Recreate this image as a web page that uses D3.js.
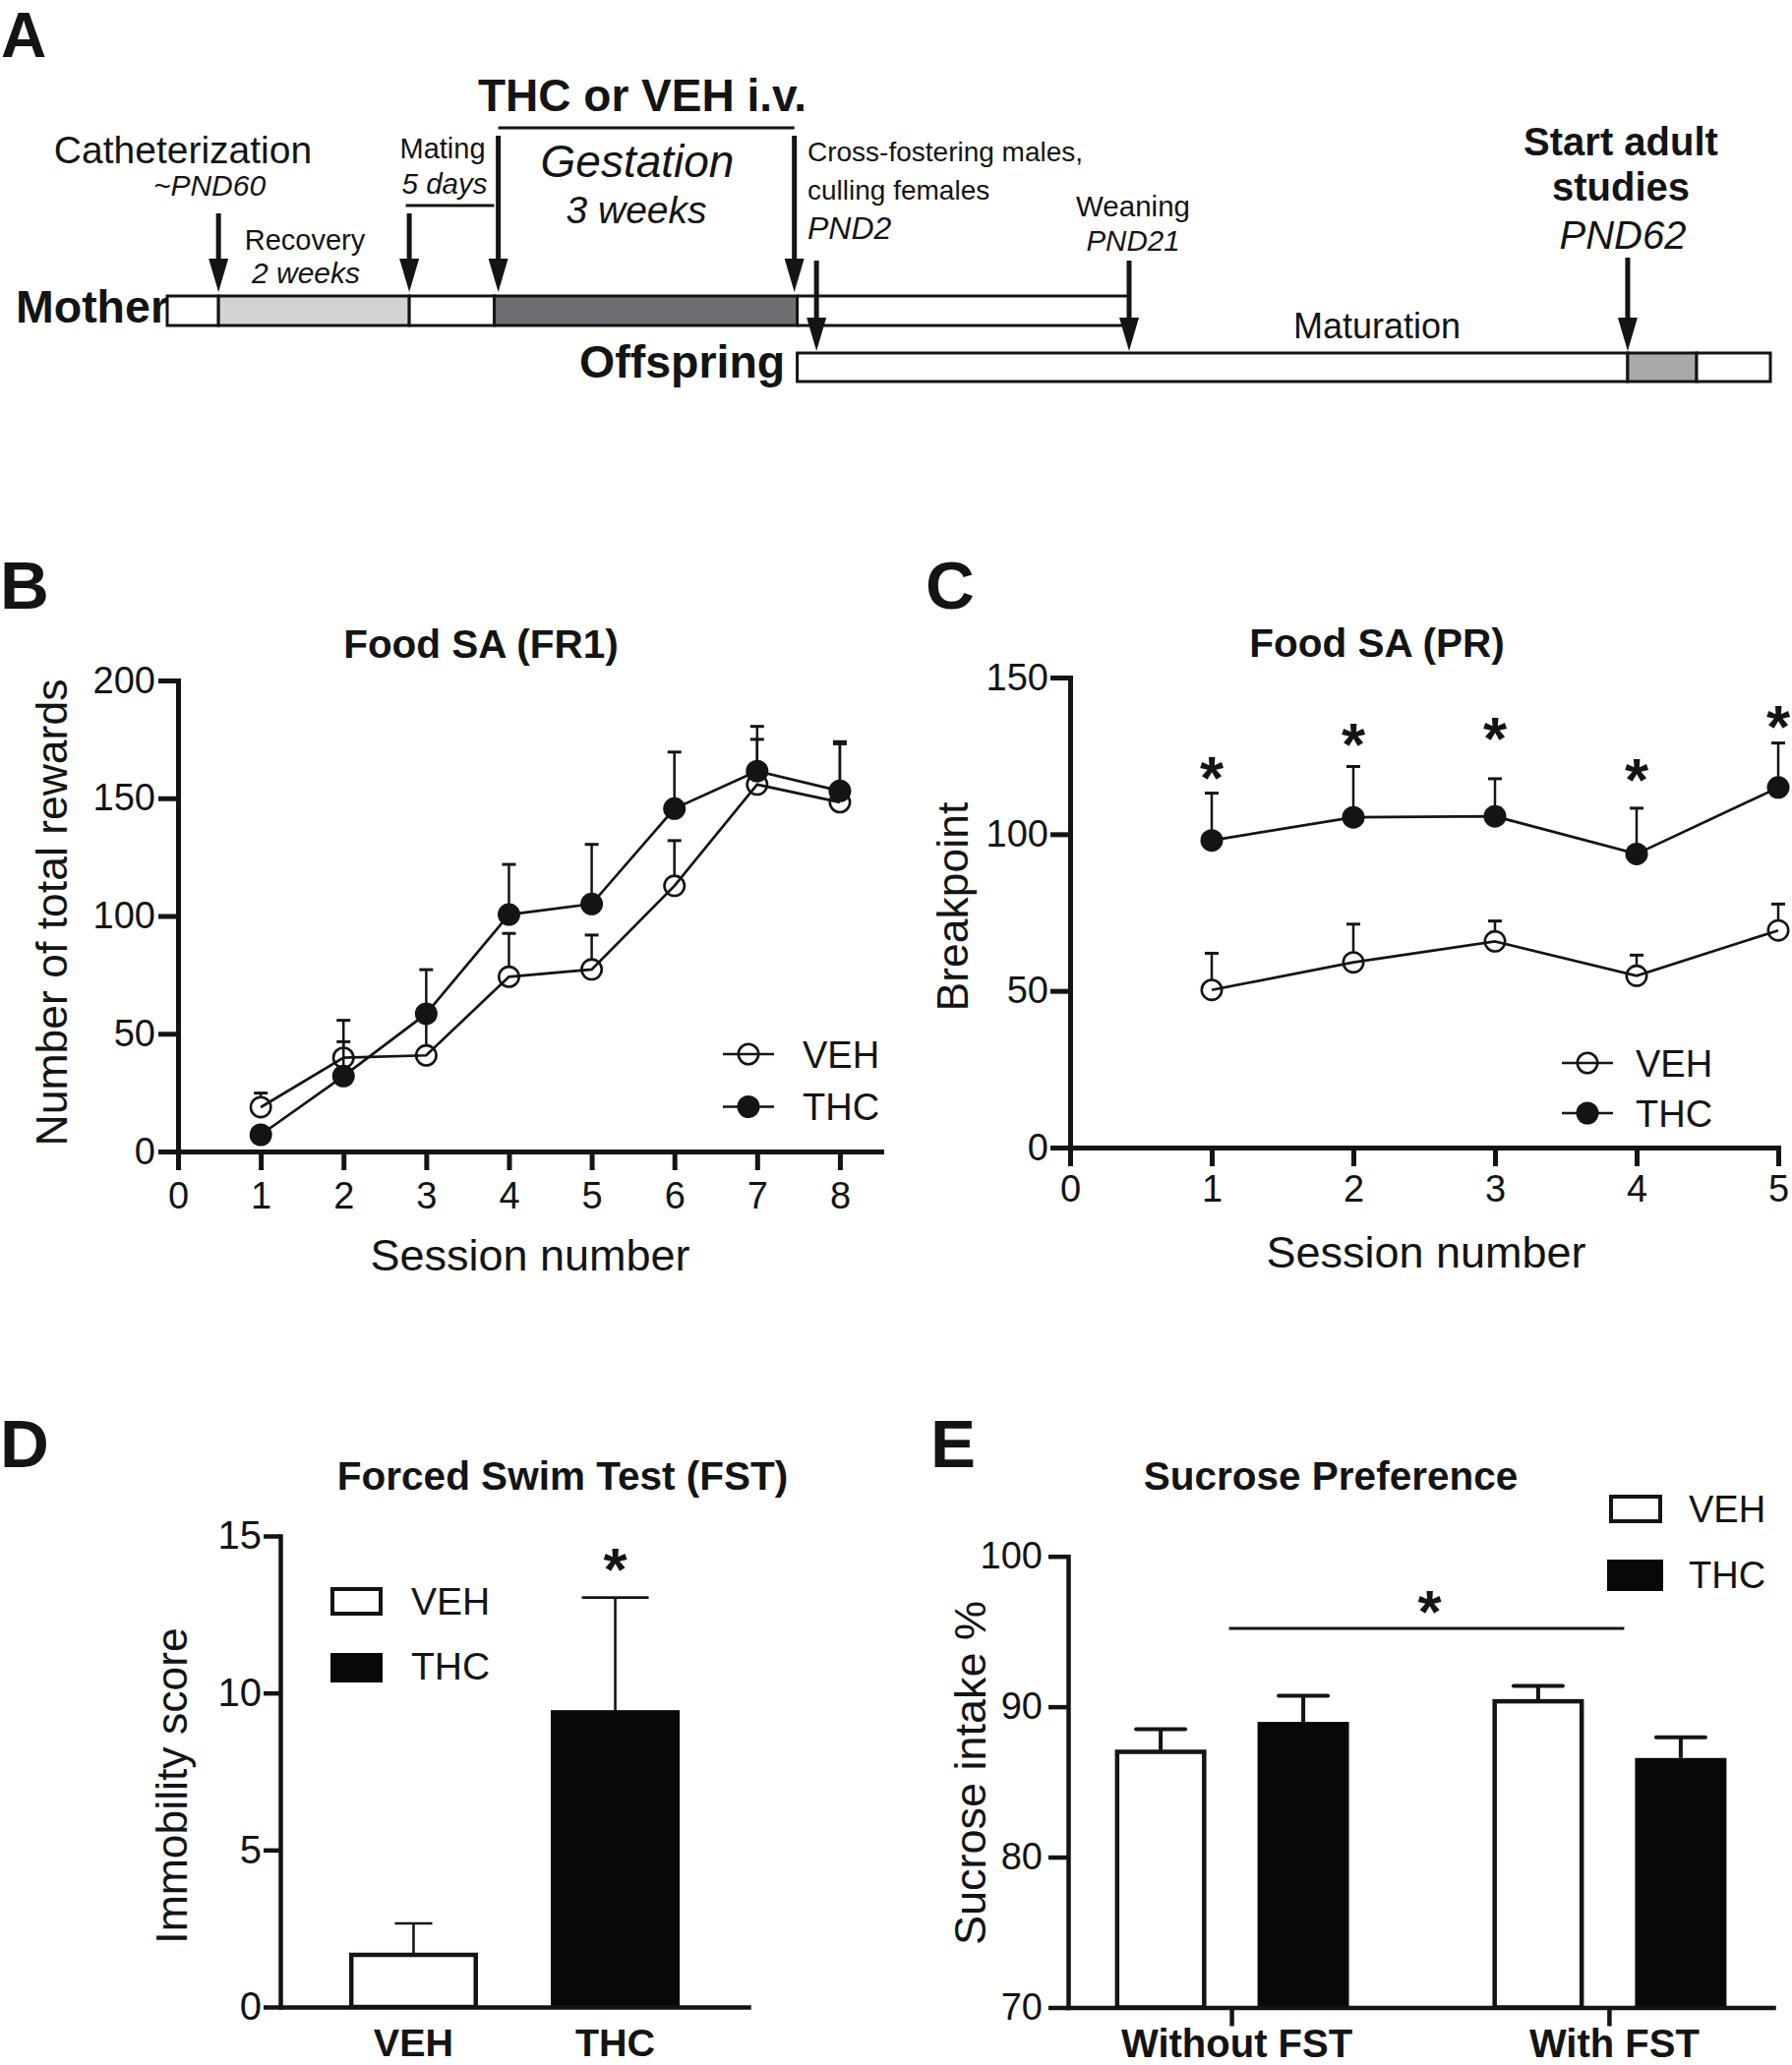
<!DOCTYPE html>
<html>
<head>
<meta charset="utf-8">
<script src="https://cdn.jsdelivr.net/npm/d3@7"></script>
<style>
  html, body { margin: 0; padding: 0; background: #ffffff; }
  svg { display: block; }
</style>
</head>
<body>
<svg id="fig" width="1822" height="2100"></svg>
<script>
// ================= DATA =================
// Panel A – timeline (arbitrary timeline units 0..100)
const timelineDomain = [0, 100];
const motherBounds = [0, 3.2, 15.1, 20.4, 39.3];
const motherPhases = ['before', 'recovery', 'mating', 'gestation'];
const motherTailEnd = 60;
const offspringBounds = [39.3, 91.1, 95.4, 100];
const offspringPhases = ['maturation', 'adult', 'later'];
const eventCatheter = 3.2, eventMating = 15.1, eventGestStart = 20.65, eventGestEnd = 39.12,
      eventCrossFoster = 40.5, eventWeaning = 60, eventAdult = 91.1, matingLineStart = 14.88;

// Panel B – Food SA (FR1)
const fr1Sessions = [1, 2, 3, 4, 5, 6, 7, 8];
const fr1Veh    = [18.8, 39.8, 40.8, 74.2, 77.3, 112.8, 155.8, 148.3];
const fr1VehErr = [6.0, 15.9, 16.0, 18.4, 14.6, 19.2, 19.2, 25.7];
const fr1Thc    = [7.1, 32.0, 58.5, 100.6, 105.1, 145.6, 161.5, 153.1];
const fr1ThcErr = [3.0, 14.6, 18.7, 21.3, 25.3, 24.0, 19.0, 20.0];
const fr1XTicks = [0, 1, 2, 3, 4, 5, 6, 7, 8];
const fr1YTicks = [0, 50, 100, 150, 200];

// Panel C – Food SA (PR)
const prSessions = [1, 2, 3, 4, 5];
const prVeh    = [50.3, 59.1, 65.8, 54.8, 69.3];
const prVehErr = [11.7, 12.2, 6.5, 6.6, 8.4];
const prThc    = [98.0, 105.4, 105.7, 93.7, 114.9];
const prThcErr = [15.1, 16.2, 12.0, 14.6, 14.2];
const prStars  = [119.9, 130.3, 132.4, 119.0, 136.1];
const prXTicks = [0, 1, 2, 3, 4, 5];
const prYTicks = [0, 50, 100, 150];

// Panel D – Forced Swim Test
const fstGroups = ['VEH', 'THC'];
const fstMean = [1.66, 9.39];
const fstErr  = [1.0, 3.65];
const fstStar = 14.1;
const fstYTicks = [0, 5, 10, 15];

// Panel E – Sucrose Preference
const sucGroups = ['Without FST', 'With FST'];
const sucSeries = ['VEH', 'THC'];
const sucVeh    = [87.0, 90.36];
const sucVehErr = [1.5, 1.03];
const sucThc    = [88.99, 86.59];
const sucThcErr = [1.74, 1.37];
const sucSigLine = 95.2, sucSigStar = 96.7;
const sucYTicks = [70, 80, 90, 100];

// ================= HELPERS =================
const svg = d3.select('#fig');
const INK = '#141414';
const FONT = "'Liberation Sans', Arial, Helvetica, sans-serif";
const phaseFill = { before: '#ffffff', recovery: '#d1d3d4', mating: '#ffffff', gestation: '#6d6e71',
                    maturation: '#ffffff', adult: '#a7a9ac', later: '#ffffff' };

function label(g, x, y, s, size, opt = {}) {
  const t = g.append('text')
    .attr('x', x).attr('y', y)
    .attr('font-family', FONT).attr('font-size', size)
    .attr('font-weight', opt.bold ? 700 : 400)
    .attr('font-style', opt.italic ? 'italic' : 'normal')
    .attr('text-anchor', opt.anchor || 'start')
    .attr('fill', INK).text(s);
  if (opt.rotate) t.attr('transform', `rotate(${opt.rotate},${x},${y})`);
  return t;
}
function styleAxis(g, size, sw, bold) {
  g.attr('font-family', FONT).attr('font-size', size).style('color', INK);
  g.select('.domain').attr('stroke-width', sw).attr('stroke-linecap', 'square');
  g.selectAll('.tick line').attr('stroke-width', sw);
  g.selectAll('.tick text').attr('font-weight', bold ? 700 : 400);
}
function arrow(g, x, y0, y1) {
  const hl = 34, hw = 10;
  g.append('line').attr('x1', x).attr('x2', x).attr('y1', y0).attr('y2', y1 - hl + 2)
    .attr('stroke', INK).attr('stroke-width', 5);
  g.append('path').attr('d', `M${x - hw},${y1 - hl}L${x + hw},${y1 - hl}L${x},${y1}Z`).attr('fill', INK);
}
function star(g, x, yc, size) {
  label(g, x, yc + 0.43 * size, '*', size, { bold: true, anchor: 'middle' });
}

// ================= PANEL A =================
(function () {
  const g = svg.append('g');
  const tx = d3.scaleLinear().domain(timelineDomain).range([170, 1800]);
  const MY = 301, MH = 30, OY = 359, OH = 29;

  label(g, 1, 58, 'A', 64, { bold: true });

  // Mother bar
  [MY, MY + MH].forEach(y => g.append('line')
    .attr('x1', tx(motherBounds[motherBounds.length - 1])).attr('x2', tx(motherTailEnd))
    .attr('y1', y).attr('y2', y).attr('stroke', INK).attr('stroke-width', 3));
  motherPhases.forEach((p, i) => g.append('rect')
    .attr('x', tx(motherBounds[i])).attr('y', MY)
    .attr('width', tx(motherBounds[i + 1]) - tx(motherBounds[i])).attr('height', MH)
    .attr('fill', phaseFill[p]).attr('stroke', INK).attr('stroke-width', 3));
  // Offspring bar
  offspringPhases.forEach((p, i) => g.append('rect')
    .attr('x', tx(offspringBounds[i])).attr('y', OY)
    .attr('width', tx(offspringBounds[i + 1]) - tx(offspringBounds[i])).attr('height', OH)
    .attr('fill', phaseFill[p]).attr('stroke', INK).attr('stroke-width', 3));

  // Arrows
  arrow(g, tx(eventCatheter), 217, 297);
  arrow(g, tx(eventMating), 217, 297);
  arrow(g, tx(eventGestStart), 138, 297);
  arrow(g, tx(eventGestEnd), 138, 297);
  arrow(g, tx(eventCrossFoster), 265, 357);
  arrow(g, tx(eventWeaning), 265, 357);
  arrow(g, tx(eventAdult), 262, 357);

  // Bracket lines
  g.append('line').attr('x1', tx(eventGestStart)).attr('x2', tx(eventGestEnd))
    .attr('y1', 130).attr('y2', 130).attr('stroke', INK).attr('stroke-width', 3);
  g.append('line').attr('x1', tx(matingLineStart)).attr('x2', tx(motherBounds[3]))
    .attr('y1', 209).attr('y2', 209).attr('stroke', INK).attr('stroke-width', 3);

  // Texts
  label(g, 653, 113, 'THC or VEH i.v.', 46, { bold: true, anchor: 'middle' });
  label(g, 186, 166, 'Catheterization', 39, { anchor: 'middle' });
  label(g, 213, 199, '~PND60', 30, { italic: true, anchor: 'middle' });
  label(g, 310, 254, 'Recovery', 29, { anchor: 'middle' });
  label(g, 311, 288, '2 weeks', 30, { italic: true, anchor: 'middle' });
  label(g, 450, 161, 'Mating', 29, { anchor: 'middle' });
  label(g, 452, 197, '5 days', 29.5, { italic: true, anchor: 'middle' });
  label(g, 648, 180, 'Gestation', 46, { italic: true, anchor: 'middle' });
  label(g, 647, 227, '3 weeks', 39, { italic: true, anchor: 'middle' });
  label(g, 821, 164, 'Cross-fostering males,', 28);
  label(g, 821, 203, 'culling females', 28);
  label(g, 821, 243, 'PND2', 32, { italic: true });
  label(g, 1152, 220, 'Weaning', 29.5, { anchor: 'middle' });
  label(g, 1152, 255, 'PND21', 29.5, { italic: true, anchor: 'middle' });
  label(g, 1648, 158, 'Start adult', 40, { bold: true, anchor: 'middle' });
  label(g, 1648, 204, 'studies', 40, { bold: true, anchor: 'middle' });
  label(g, 1650, 253, 'PND62', 40, { italic: true, anchor: 'middle' });
  label(g, 1400, 344, 'Maturation', 36, { anchor: 'middle' });
  label(g, 16, 328, 'Mother', 46.5, { bold: true });
  label(g, 589, 384, 'Offspring', 46.5, { bold: true });
})();

// ================= LINE PANELS (B, C) =================
function linePanel(cfg) {
  const g = svg.append('g');
  const x = d3.scaleLinear().domain(cfg.xDomain).range(cfg.xRange);
  const y = d3.scaleLinear().domain(cfg.yDomain).range(cfg.yRange);
  const y0 = cfg.yRange[0];

  label(g, cfg.letter[1], cfg.letter[2], cfg.letter[0], 69, { bold: true });
  label(g, cfg.title[1], cfg.title[2], cfg.title[0], 40.5, { bold: true, anchor: 'middle' });

  const ax = g.append('g').attr('transform', `translate(0,${y0})`)
    .call(d3.axisBottom(x).tickValues(cfg.xTicks).tickFormat(d3.format('d'))
      .tickSize(19).tickSizeOuter(0).tickPadding(cfg.xPad));
  styleAxis(ax, 38, 5, false);
  const ay = g.append('g').attr('transform', `translate(${cfg.xRange[0]},0)`)
    .call(d3.axisLeft(y).tickValues(cfg.yTicks).tickFormat(d3.format('d'))
      .tickSize(20).tickSizeOuter(0).tickPadding(cfg.yPad));
  styleAxis(ay, 38, 5, false);

  label(g, cfg.yLabel[1], cfg.yLabel[2], cfg.yLabel[0], 44.5, { anchor: 'middle', rotate: -90 });
  label(g, cfg.xLabel[1], cfg.xLabel[2], cfg.xLabel[0], 45, { anchor: 'middle' });

  const R = 11.5;
  const line = d3.line().x(d => x(d[0])).y(d => y(d[1]));
  const series = [
    { vals: cfg.veh, errs: cfg.vehErr, open: true },
    { vals: cfg.thc, errs: cfg.thcErr, open: false }
  ];
  series.forEach(s => {
    const pts = cfg.sessions.map((t, i) => [t, s.vals[i], s.errs[i]]);
    g.append('path').datum(pts).attr('d', line).attr('fill', 'none')
      .attr('stroke', INK).attr('stroke-width', 2.7);
    pts.forEach(p => {
      const cx = x(p[0]), cy = y(p[1]), ty = y(p[1] + p[2]);
      if (ty < cy - R) {
        g.append('line').attr('x1', cx).attr('x2', cx).attr('y1', cy - R + 1).attr('y2', ty)
          .attr('stroke', INK).attr('stroke-width', 2.5);
        g.append('line').attr('x1', cx - 7).attr('x2', cx + 7).attr('y1', ty).attr('y2', ty)
          .attr('stroke', INK).attr('stroke-width', 3);
      }
    });
    g.selectAll(null).data(pts).join('circle')
      .attr('cx', p => x(p[0])).attr('cy', p => y(p[1]))
      .attr('r', s.open ? R - 1.3 : R)
      .attr('fill', s.open ? 'none' : INK)
      .attr('stroke', INK).attr('stroke-width', s.open ? 2.6 : 0);
  });

  if (cfg.stars) cfg.sessions.forEach((t, i) => star(g, x(t), y(cfg.stars[i]), 62));

  // Legend
  const L = cfg.legend;
  [['VEH', true, L.y1], ['THC', false, L.y2]].forEach(([name, open, ly]) => {
    g.append('line').attr('x1', L.x0).attr('x2', L.x1).attr('y1', ly).attr('y2', ly)
      .attr('stroke', INK).attr('stroke-width', 2.6);
    g.append('circle').attr('cx', (L.x0 + L.x1) / 2).attr('cy', ly)
      .attr('r', open ? R - 1.3 : R).attr('fill', open ? 'none' : INK)
      .attr('stroke', INK).attr('stroke-width', open ? 2.6 : 0);
    label(g, L.tx, ly + 13.5, name, 38);
  });
}

linePanel({
  letter: ['B', 0, 619], title: ['Food SA (FR1)', 489, 669],
  xDomain: [0, 8.5], xRange: [181, 896], yDomain: [0, 200], yRange: [1171, 692],
  xTicks: fr1XTicks, yTicks: fr1YTicks, xPad: 12, yPad: 3,
  yLabel: ['Number of total rewards', 68, 928], xLabel: ['Session number', 539, 1292],
  sessions: fr1Sessions, veh: fr1Veh, vehErr: fr1VehErr, thc: fr1Thc, thcErr: fr1ThcErr,
  legend: { x0: 735, x1: 787, tx: 816, y1: 1072, y2: 1125.5 }
});

linePanel({
  letter: ['C', 941, 619], title: ['Food SA (PR)', 1400, 668],
  xDomain: [0, 5], xRange: [1088, 1808], yDomain: [0, 150], yRange: [1167, 689],
  xTicks: prXTicks, yTicks: prYTicks, xPad: 9, yPad: 2,
  yLabel: ['Breakpoint', 984, 922], xLabel: ['Session number', 1450, 1289],
  sessions: prSessions, veh: prVeh, vehErr: prVehErr, thc: prThc, thcErr: prThcErr,
  stars: prStars,
  legend: { x0: 1588, x1: 1640, tx: 1663, y1: 1081, y2: 1132 }
});

// ================= PANEL D =================
(function () {
  const g = svg.append('g');
  const x = d3.scaleBand().domain(fstGroups).range([285, 761]).paddingInner(0.361).paddingOuter(0.341);
  const y = d3.scaleLinear().domain([0, 15]).range([2041, 1562]);

  label(g, 0, 1492, 'D', 69, { bold: true });
  label(g, 572, 1515, 'Forced Swim Test (FST)', 40.5, { bold: true, anchor: 'middle' });

  const fills = { VEH: '#ffffff', THC: '#060809' };
  const capHalf = { VEH: 19, THC: 34 };
  fstGroups.forEach((k, i) => {
    const bx = x(k), bw = x.bandwidth(), cx = bx + bw / 2;
    const top = y(fstMean[i]), cap = y(fstMean[i] + fstErr[i]);
    g.append('line').attr('x1', cx).attr('x2', cx).attr('y1', top).attr('y2', cap)
      .attr('stroke', INK).attr('stroke-width', 2.6);
    g.append('line').attr('x1', cx - capHalf[k]).attr('x2', cx + capHalf[k]).attr('y1', cap).attr('y2', cap)
      .attr('stroke', INK).attr('stroke-width', 2.6);
    if (k === 'VEH') {
      g.append('rect').attr('x', bx + 2.25).attr('y', top).attr('width', bw - 4.5).attr('height', y(0) - top)
        .attr('fill', fills[k]).attr('stroke', INK).attr('stroke-width', 4.5);
    } else {
      g.append('rect').attr('x', bx).attr('y', top - 2).attr('width', bw).attr('height', y(0) - top + 2)
        .attr('fill', fills[k]);
    }
  });
  star(g, x('THC') + x.bandwidth() / 2, y(fstStar), 62);

  const ay = g.append('g').attr('transform', 'translate(285,0)')
    .call(d3.axisLeft(y).tickValues(fstYTicks).tickSize(17).tickSizeOuter(0).tickPadding(2));
  styleAxis(ay, 40, 4.5, false);
  const ax = g.append('g').attr('transform', 'translate(0,2041)')
    .call(d3.axisBottom(x).tickSize(0).tickSizeOuter(0).tickPadding(22));
  styleAxis(ax, 39.5, 4.5, true);

  label(g, 190, 1816, 'Immobility score', 44.5, { anchor: 'middle', rotate: -90 });

  // legend
  g.append('rect').attr('x', 338).attr('y', 1616).attr('width', 49).attr('height', 25)
    .attr('fill', '#fff').attr('stroke', INK).attr('stroke-width', 4);
  g.append('rect').attr('x', 336).attr('y', 1681).attr('width', 53).attr('height', 30).attr('fill', '#060809');
  label(g, 418, 1642, 'VEH', 39);
  label(g, 418, 1708, 'THC', 39);
})();

// ================= PANEL E =================
(function () {
  const g = svg.append('g');
  const x0 = d3.scaleBand().domain(sucGroups).range([1086, 1803]).paddingInner(0.38).paddingOuter(0.124);
  const x1 = d3.scaleBand().domain(sucSeries).range([0, x0.bandwidth()]).paddingInner(0.3586).paddingOuter(0);
  const y = d3.scaleLinear().domain([70, 100]).range([2041.5, 1582.7]);

  label(g, 946, 1492, 'E', 69, { bold: true });
  label(g, 1353, 1515, 'Sucrose Preference', 40.5, { bold: true, anchor: 'middle' });

  const vals = { VEH: sucVeh, THC: sucThc }, errs = { VEH: sucVehErr, THC: sucThcErr };
  sucGroups.forEach((grp, gi) => {
    sucSeries.forEach(s => {
      const bx = x0(grp) + x1(s), bw = x1.bandwidth(), cx = bx + bw / 2;
      const top = y(vals[s][gi]), cap = y(vals[s][gi] + errs[s][gi]);
      g.append('line').attr('x1', cx).attr('x2', cx).attr('y1', top).attr('y2', cap)
        .attr('stroke', INK).attr('stroke-width', 4);
      g.append('line').attr('x1', cx - 25).attr('x2', cx + 25).attr('y1', cap).attr('y2', cap)
        .attr('stroke', INK).attr('stroke-width', 4).attr('stroke-linecap', 'round');
      if (s === 'VEH') {
        g.append('rect').attr('x', bx + 2.25).attr('y', top).attr('width', bw - 4.5).attr('height', y(70) - top)
          .attr('fill', '#fff').attr('stroke', INK).attr('stroke-width', 4.5);
      } else {
        g.append('rect').attr('x', bx).attr('y', top).attr('width', bw).attr('height', y(70) - top)
          .attr('fill', '#060809');
      }
    });
  });

  const ay = g.append('g').attr('transform', 'translate(1086,0)')
    .call(d3.axisLeft(y).tickValues(sucYTicks).tickSize(20).tickSizeOuter(0).tickPadding(6));
  styleAxis(ay, 38, 4.5, false);
  const ax = g.append('g').attr('transform', 'translate(0,2041.5)')
    .call(d3.axisBottom(x0).tickSize(19).tickSizeOuter(0).tickPadding(3));
  styleAxis(ax, 40, 4.5, true);
  ax.selectAll('.tick text').attr('dx', 5);

  // significance bar
  const lx0 = x0('Without FST') + x0.bandwidth() / 2 - 3;
  const lx1 = x0('With FST') + x0.bandwidth() / 2 + 15;
  g.append('line').attr('x1', lx0).attr('x2', lx1).attr('y1', y(sucSigLine)).attr('y2', y(sucSigLine))
    .attr('stroke', INK).attr('stroke-width', 3);
  star(g, (lx0 + lx1) / 2 + 3, y(sucSigStar), 62);

  label(g, 1002, 1803, 'Sucrose intake %', 45, { anchor: 'middle', rotate: -90 });

  // legend
  g.append('rect').attr('x', 1638).attr('y', 1522).attr('width', 50).attr('height', 25)
    .attr('fill', '#fff').attr('stroke', INK).attr('stroke-width', 4);
  g.append('rect').attr('x', 1634).attr('y', 1586).attr('width', 57).attr('height', 32).attr('fill', '#060809');
  label(g, 1717, 1548, 'VEH', 38);
  label(g, 1717, 1615, 'THC', 38);
})();
</script>
</body>
</html>
